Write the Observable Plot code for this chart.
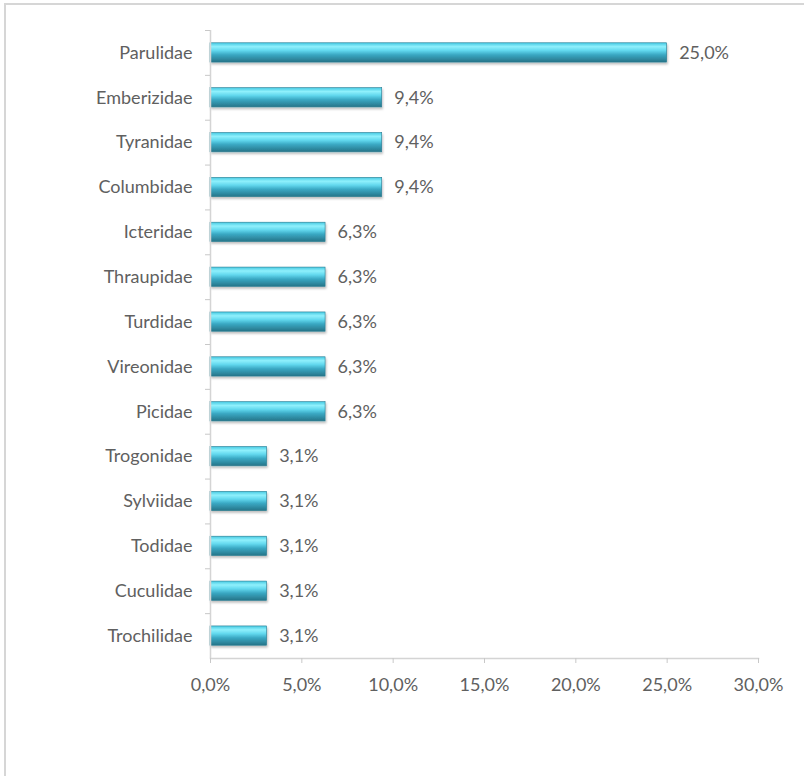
<!DOCTYPE html>
<html>
<head>
<meta charset="utf-8">
<script src="https://cdn.jsdelivr.net/npm/d3@7"></script>
<script src="https://cdn.jsdelivr.net/npm/@observablehq/plot@0.6"></script>
<style>
  body { margin: 0; background: #fff; }
  #wrap { position: relative; width: 804px; height: 776px; overflow: hidden; }
  #border { position: absolute; left: 4px; top: 3px; right: -10px; bottom: -10px; border: 2px solid #d6d6d6; pointer-events: none; }
  svg { font-family: Lato, "Open Sans", sans-serif; }
</style>
</head>
<body>
<div id="wrap"><div id="border"></div></div>
<script>
const families = ["Parulidae","Emberizidae","Tyranidae","Columbidae","Icteridae","Thraupidae","Turdidae","Vireonidae","Picidae","Trogonidae","Sylviidae","Todidae","Cuculidae","Trochilidae"];
const values = [25.0, 9.4, 9.4, 9.4, 6.3, 6.3, 6.3, 6.3, 6.3, 3.1, 3.1, 3.1, 3.1, 3.1];
const xTicks = [0, 5, 10, 15, 20, 25, 30];

const data = families.map((f, i) => ({family: f, value: values[i]}));
const fmt = d => d.toFixed(1).replace(".", ",") + "%";

const plot = Plot.plot({
  width: 804,
  height: 776,
  marginLeft: 210,
  marginRight: 46,
  marginTop: 30,
  marginBottom: 118,
  style: {fontSize: "18px", color: "#606060", background: "transparent"},
  x: {domain: [0, 30], ticks: xTicks, tickFormat: fmt},
  y: {domain: families, paddingInner: 0.57, paddingOuter: 0.285, round: false},
  marks: [
    Plot.barX(data, {x: "value", y: "family", fill: "url(#barGrad)", stroke: "#2a7d92", strokeWidth: 0.6}),
    Plot.text(data, {x: "value", y: "family", text: d => fmt(d.value), textAnchor: "start", dx: 12, fill: "#606060", fontSize: 18}),
    Plot.ruleX([0], {stroke: "#d4d4d4", strokeWidth: 1.5}),
    Plot.frame({anchor: "bottom", stroke: "#d4d4d4", strokeWidth: 1.5}),
    Plot.axisX({ticks: xTicks, tickFormat: fmt, tickSize: 5, tickPadding: 15, stroke: "#c8c8c8", label: null, fontSize: 18}),
    Plot.axisY({tickSize: 5, tickPadding: 13, stroke: "#c8c8c8", label: null, fontSize: 18})
  ]
});

const svg = d3.select(plot);
svg.insert("defs", ":first-child").html(`
  <linearGradient id="barGrad" x1="0" y1="0" x2="0" y2="1">
    <stop offset="0" stop-color="#45c9e2"/>
    <stop offset="0.2" stop-color="#8ff0fc"/>
    <stop offset="0.4" stop-color="#62d8ee"/>
    <stop offset="0.62" stop-color="#3aa8c3"/>
    <stop offset="1" stop-color="#267488"/>
  </linearGradient>
  <filter id="shadow" x="-5%" y="-30%" width="115%" height="180%">
    <feDropShadow dx="1" dy="2" stdDeviation="1.2" flood-color="#000" flood-opacity="0.25"/>
  </filter>`);
svg.selectAll('g[aria-label="bar"]').attr("filter", "url(#shadow)");

// move y-axis ticks to category boundaries
const ys = plot.scale("y");
const step = ys.step;
const tg = svg.select('g[aria-label="y-axis tick"]');
const tr = tg.attr("transform") || "";
tg.attr("transform", `${tr} translate(0,${-step / 2})`);

document.getElementById("wrap").appendChild(plot);
</script>
</body>
</html>
